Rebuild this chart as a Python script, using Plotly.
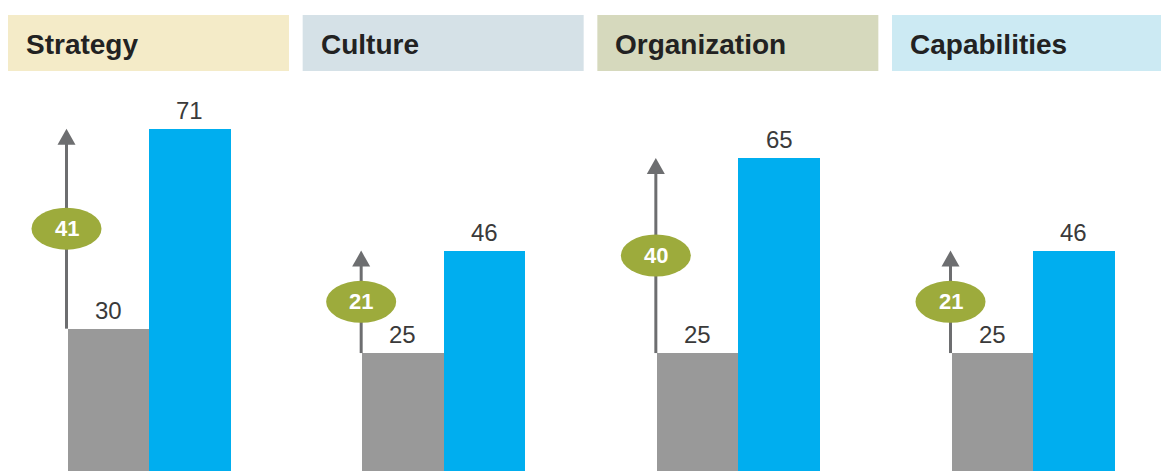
import plotly.graph_objects as go

# ---- data ----
categories = ["Strategy", "Culture", "Organization", "Capabilities"]
baseline_scores = [30, 25, 25, 25]
leader_scores = [71, 46, 65, 46]
improvements = [41, 21, 40, 21]
header_colors = ["#f4ebc8", "#d5e1e7", "#d6d9bd", "#cceaf3"]

# ---- layout geometry (pixels) ----
W, H = 1161, 471
PERIOD_PX = 294.67     # distance between groups
GROUP0_PX = 149        # pixel of first group centre
ZERO_PX = 475          # pixel of value 0 (just below the bottom edge)
Y_PX = 4.878           # pixels per unit value
BAR_PX = 81.5

dx = 1 / PERIOD_PX
dy = 1 / Y_PX
x_range = [-GROUP0_PX * dx, (W - GROUP0_PX) * dx]
y_range = [(ZERO_PX - H) * dy, ZERO_PX * dy]
bw = BAR_PX * dx
idx = list(range(len(categories)))

GRAY = "#999999"
BLUE = "#00aeef"
GREEN = "#9dab3c"
ARROW = "#6d6e70"
FONT = "Liberation Sans, Arial, sans-serif"

fig = go.Figure()
fig.add_bar(x=[i - bw / 2 for i in idx], y=baseline_scores, width=bw,
            marker=dict(color=GRAY, line=dict(width=0)), hoverinfo="skip")
fig.add_bar(x=[i + bw / 2 for i in idx], y=leader_scores, width=bw,
            marker=dict(color=BLUE, line=dict(width=0)), hoverinfo="skip")

shapes = []
annotations = []
for i, cat in enumerate(categories):
    # header band
    shapes.append(dict(type="rect", xref="x", yref="paper", layer="below",
                       x0=i + (8 - GROUP0_PX) * dx, x1=i + (289 - GROUP0_PX) * dx,
                       y0=1 - 71 / H, y1=1 - 15 / H,
                       fillcolor=header_colors[i], line=dict(width=0)))
    annotations.append(dict(xref="x", yref="paper", x=i + (24 - GROUP0_PX) * dx,
                            y=1 - 45 / H, xanchor="left", yanchor="middle",
                            text="<b>" + cat + "</b>", showarrow=False,
                            font=dict(family=FONT, size=28, color="#222222")))
    # value labels
    for xv, v in ((i - bw / 2, baseline_scores[i]), (i + bw / 2, leader_scores[i])):
        annotations.append(dict(xref="x", yref="y", x=xv, y=v, xanchor="center",
                                yanchor="bottom", yshift=3, text=str(v), showarrow=False,
                                font=dict(family=FONT, size=24, color="#3a3a3a")))
    # arrow
    xa = i - bw - 1 * dx
    b, a = baseline_scores[i], leader_scores[i]
    head_h, head_w = 16, 18
    shapes.append(dict(type="line", xref="x", yref="y", x0=xa, x1=xa, y0=b,
                       y1=a - head_h * dy + 1 * dy, line=dict(color=ARROW, width=3)))
    shapes.append(dict(type="path", xref="x", yref="y",
                       path=f"M {xa - head_w / 2 * dx},{a - head_h * dy} "
                            f"L {xa + head_w / 2 * dx},{a - head_h * dy} L {xa},{a} Z",
                       fillcolor=ARROW, line=dict(width=0)))
    # badge
    yc = (a + b) / 2
    shapes.append(dict(type="circle", xref="x", yref="y",
                       x0=xa - 35 * dx, x1=xa + 35 * dx,
                       y0=yc - 21 * dy, y1=yc + 21 * dy,
                       fillcolor=GREEN, line=dict(width=0)))
    annotations.append(dict(xref="x", yref="y", x=xa, y=yc, xanchor="center",
                            yanchor="middle", text="<b>" + str(improvements[i]) + "</b>",
                            showarrow=False,
                            font=dict(family=FONT, size=22, color="white")))

fig.update_layout(
    width=W, height=H, autosize=False,
    margin=dict(l=0, r=0, t=0, b=0),
    barmode="overlay", bargap=0, showlegend=False,
    plot_bgcolor="white", paper_bgcolor="white",
    xaxis=dict(range=x_range, visible=False, fixedrange=True),
    yaxis=dict(range=y_range, visible=False, fixedrange=True),
    shapes=shapes, annotations=annotations, hovermode=False,
)

fig.write_html("out.html", config={"displayModeBar": False},
               post_script="document.body.style.margin='0';document.body.style.overflow='hidden';")
